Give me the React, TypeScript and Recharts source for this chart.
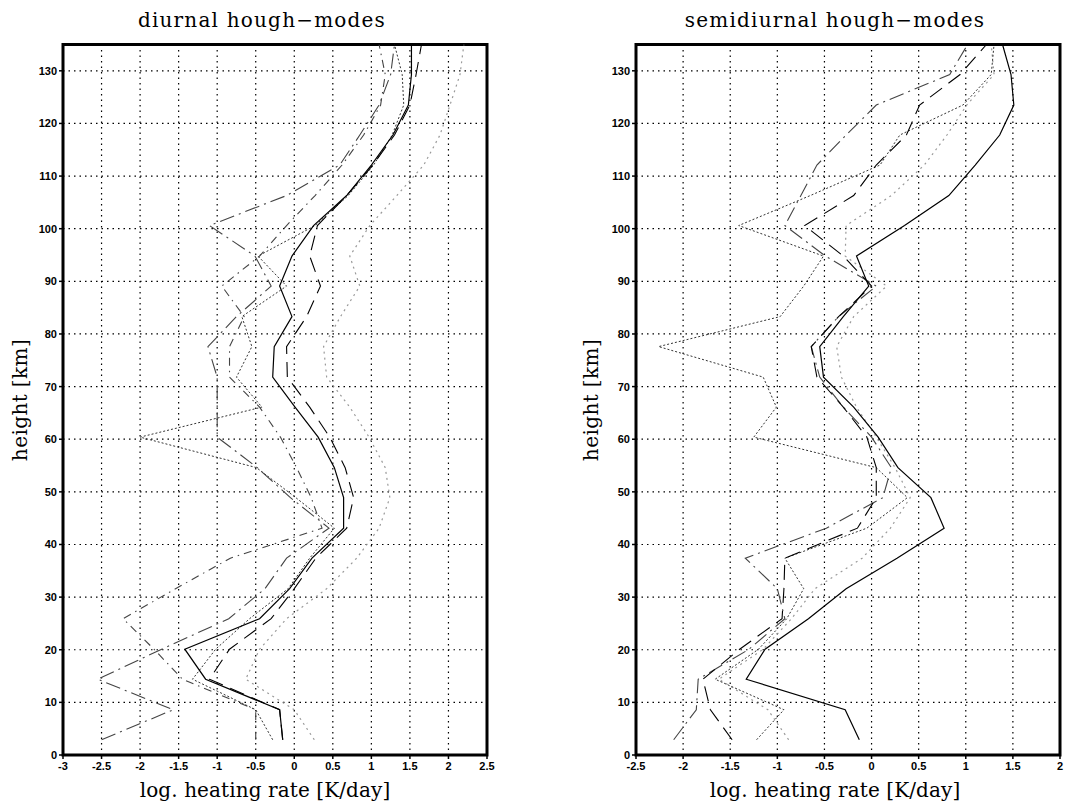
import React from 'react';
import { ScatterChart, Scatter, XAxis, YAxis, CartesianGrid, ReferenceArea } from 'recharts';

// model levels [km]
const HEIGHTS = [2.9, 8.6, 14.4, 20.1, 25.9, 31.6, 37.4, 43.1, 48.9, 54.6, 60.4, 66.1, 71.8, 77.6, 83.3, 89.1, 94.8, 100.6, 106.3, 112.1, 117.8, 123.5, 129.3, 135.0];

// diurnal panel (log heating rate)
const DIURNAL_SOLID = [-0.15, -0.19, -1.15, -1.42, -0.45, -0.06, 0.23, 0.64, 0.64, 0.52, 0.31, 0.01, -0.28, -0.26, -0.03, -0.19, -0.03, 0.25, 0.68, 1.0, 1.28, 1.48, 1.52, 1.52];
const DIURNAL_LONGDASH = [-0.15, -0.19, -1.1, -0.84, -0.3, 0.0, 0.28, 0.68, 0.77, 0.66, 0.46, 0.2, -0.09, -0.1, 0.16, 0.34, 0.2, 0.3, 0.68, 1.02, 1.3, 1.5, 1.58, 1.65];
const DIURNAL_DASHDOT_A = [-0.5, -0.5, -1.45, -1.82, -2.22, -1.54, -0.83, 0.36, 0.22, 0.03, -0.18, -0.45, -0.84, -0.84, -0.65, -0.94, -0.45, -0.1, 0.27, 0.62, 0.9, 1.12, 1.18, 1.1];
const DIURNAL_DASHDOT_B = [-2.5, -1.57, -2.55, -1.72, -0.85, -0.38, -0.1, 0.45, -0.05, -0.48, -1.0, -1.0, -1.0, -1.12, -0.75, -0.3, -0.51, -1.1, -0.1, 0.59, 0.85, 1.1, 1.25, 1.3];
const DIURNAL_FINEDOT = [-0.28, -0.5, -1.32, -1.02, -0.58, -0.08, 0.2, 0.52, 0.02, -0.49, -2.0, -0.42, -0.75, -0.55, -0.68, -0.1, -0.47, 0.27, 0.7, 1.03, 1.27, 1.42, 1.4, 1.3];
const DIURNAL_LIGHTDOT = [0.26, 0.0, -0.63, -0.45, -0.1, 0.42, 0.81, 1.1, 1.24, 1.18, 0.97, 0.72, 0.42, 0.38, 0.6, 0.85, 0.72, 0.98, 1.33, 1.68, 1.89, 2.02, 2.15, 2.2];

// semidiurnal panel (log heating rate)
const SEMI_SOLID = [-0.13, -0.28, -1.33, -1.13, -0.67, -0.27, 0.27, 0.77, 0.63, 0.28, 0.07, -0.19, -0.51, -0.55, -0.3, -0.03, -0.16, 0.35, 0.82, 1.1, 1.36, 1.51, 1.48, 1.39];
const SEMI_LONGDASH = [-1.48, -1.71, -1.79, -1.4, -0.95, -0.93, -0.92, -0.15, 0.05, 0.05, -0.05, -0.3, -0.58, -0.64, -0.35, 0.0, -0.3, -0.71, -0.19, 0.05, 0.37, 0.51, 0.94, 1.22];
const SEMI_DASHDOT = [-2.1, -1.86, -1.84, -1.3, -0.92, -1.0, -1.34, -0.48, 0.12, 0.21, 0.0, -0.3, -0.55, -0.64, -0.35, 0.05, -0.49, -0.92, -0.75, -0.58, -0.27, 0.05, 0.83, 1.02];
const SEMI_FINEDOT = [-1.22, -0.93, -1.66, -1.2, -0.9, -0.72, -0.92, -0.05, 0.38, 0.05, -1.25, -1.01, -1.15, -2.26, -0.97, -0.72, -0.51, -1.41, -0.65, 0.09, 0.3, 0.97, 1.27, 1.3];
const SEMI_LIGHTDOT = [-0.88, -1.1, -1.62, -1.15, -0.85, -0.6, -0.1, 0.2, 0.41, 0.25, 0.05, -0.16, -0.32, -0.37, -0.19, 0.16, -0.28, -0.27, 0.21, 0.56, 0.8, 1.01, 1.3, 1.27];

const LEFT_X_TICKS = [-3, -2.5, -2, -1.5, -1, -0.5, 0, 0.5, 1, 1.5, 2, 2.5];
const RIGHT_X_TICKS = [-2.5, -2, -1.5, -1, -0.5, 0, 0.5, 1, 1.5, 2];
const Y_TICKS = [0, 10, 20, 30, 40, 50, 60, 70, 80, 90, 100, 110, 120, 130];

const STYLES: Record<string, { stroke: string; dash?: string; width: number }> = {
  solid: { stroke: '#000', width: 1.2 },
  longdash: { stroke: '#000', dash: '15 8', width: 1.1 },
  dashdotA: { stroke: '#444', dash: '8 5 1.5 5', width: 1.1 },
  dashdotB: { stroke: '#444', dash: '15 5 2 5', width: 1.1 },
  finedot: { stroke: '#333', dash: '2 2', width: 1 },
  lightdot: { stroke: '#9a9a9a', dash: '2 4', width: 1.2 },
};

const toPoints = (vals: number[]) => vals.map((v, i) => ({ x: v, y: HEIGHTS[i] }));

const LEFT_SERIES = [
  { name: 'lightdot', data: toPoints(DIURNAL_LIGHTDOT) },
  { name: 'finedot', data: toPoints(DIURNAL_FINEDOT) },
  { name: 'dashdotB', data: toPoints(DIURNAL_DASHDOT_B) },
  { name: 'dashdotA', data: toPoints(DIURNAL_DASHDOT_A) },
  { name: 'longdash', data: toPoints(DIURNAL_LONGDASH) },
  { name: 'solid', data: toPoints(DIURNAL_SOLID) },
];
const RIGHT_SERIES = [
  { name: 'lightdot', data: toPoints(SEMI_LIGHTDOT) },
  { name: 'finedot', data: toPoints(SEMI_FINEDOT) },
  { name: 'dashdotB', data: toPoints(SEMI_DASHDOT) },
  { name: 'longdash', data: toPoints(SEMI_LONGDASH) },
  { name: 'solid', data: toPoints(SEMI_SOLID) },
];

const tickFont = "'Liberation Sans', Arial, sans-serif";
const labelFont = "'DejaVu Serif', 'Liberation Serif', serif";

const XTick = (props: any) => {
  const { x, y, payload } = props;
  return (
    <text x={x} y={y + 9} textAnchor="middle" fontFamily={tickFont} fontWeight="bold" fontSize={11} fill="#000">
      {String(payload.value)}
    </text>
  );
};
const YTick = (props: any) => {
  const { x, y, payload } = props;
  return (
    <text x={x} y={y + 4} textAnchor="end" fontFamily={tickFont} fontWeight="bold" fontSize={11} fill="#000">
      {String(payload.value)}
    </text>
  );
};

const NoShape = () => null;

function Panel(props: {
  left: number;
  marginLeft: number;
  marginRight: number;
  xDomain: [number, number];
  xTicks: number[];
  series: { name: string; data: { x: number; y: number }[] }[];
}) {
  const { left, marginLeft, marginRight, xDomain, xTicks, series } = props;
  return (
    <div style={{ position: 'absolute', left, top: 0, width: 535, height: 807 }}>
      <ScatterChart width={535} height={807} margin={{ top: 44.5, right: marginRight, bottom: 22, left: marginLeft }}>
        <CartesianGrid stroke="#000" strokeDasharray="1.5 4" strokeWidth={1.2} horizontalValues={Y_TICKS} verticalValues={xTicks} />
        <XAxis
          type="number"
          dataKey="x"
          domain={xDomain}
          ticks={xTicks}
          allowDataOverflow
          height={30}
          axisLine={false}
          tickLine={{ stroke: '#000', strokeWidth: 1.5 }}
          tickSize={4}
          tickMargin={2}
          tick={<XTick />}
          interval={0}
        />
        <YAxis
          type="number"
          dataKey="y"
          domain={[0, 135]}
          ticks={Y_TICKS}
          allowDataOverflow
          width={40}
          axisLine={false}
          tickLine={{ stroke: '#000', strokeWidth: 1.5 }}
          tickSize={4}
          tickMargin={2}
          tick={<YTick />}
          interval={0}
        />
        {series.map((s) => {
          const st = STYLES[s.name];
          return (
            <Scatter
              key={s.name}
              data={s.data}
              fill={st.stroke}
              shape={NoShape}
              isAnimationActive={false}
              line={{ stroke: st.stroke, strokeWidth: st.width, strokeDasharray: st.dash }}
            />
          );
        })}
        <ReferenceArea
          x1={xDomain[0]}
          x2={xDomain[1]}
          y1={0}
          y2={135}
          fill="none"
          fillOpacity={0}
          stroke="#000"
          strokeWidth={3}
          ifOverflow="visible"
        />
      </ScatterChart>
    </div>
  );
}

export default function App() {
  return (
    <div style={{ position: 'absolute', left: 0, top: 0, width: 1070, height: 807, background: '#fff' }}>
      <Panel left={0} marginLeft={23} marginRight={48} xDomain={[-3, 2.5]} xTicks={LEFT_X_TICKS} series={LEFT_SERIES} />
      <Panel left={535} marginLeft={61} marginRight={10} xDomain={[-2.5, 2]} xTicks={RIGHT_X_TICKS} series={RIGHT_SERIES} />
      <svg width={1070} height={807} style={{ position: 'absolute', left: 0, top: 0, pointerEvents: 'none' }}>
        <text x={262} y={27} textAnchor="middle" fontFamily={labelFont} fontSize={20} letterSpacing={1.2} fill="#000">
          diurnal hough−modes
        </text>
        <text x={835} y={27} textAnchor="middle" fontFamily={labelFont} fontSize={20} letterSpacing={1.2} fill="#000">
          semidiurnal hough−modes
        </text>
        <text x={265} y={797} textAnchor="middle" fontFamily={labelFont} fontSize={20} letterSpacing={0.1} fill="#000">
          log. heating rate [K/day]
        </text>
        <text x={835} y={797} textAnchor="middle" fontFamily={labelFont} fontSize={20} letterSpacing={0.1} fill="#000">
          log. heating rate [K/day]
        </text>
        <text x={27} y={400} transform="rotate(-90 27 400)" textAnchor="middle" fontFamily={labelFont} fontSize={20} letterSpacing={0.4} fill="#000">
          height [km]
        </text>
        <text x={598} y={400} transform="rotate(-90 598 400)" textAnchor="middle" fontFamily={labelFont} fontSize={20} letterSpacing={0.4} fill="#000">
          height [km]
        </text>
      </svg>
    </div>
  );
}
